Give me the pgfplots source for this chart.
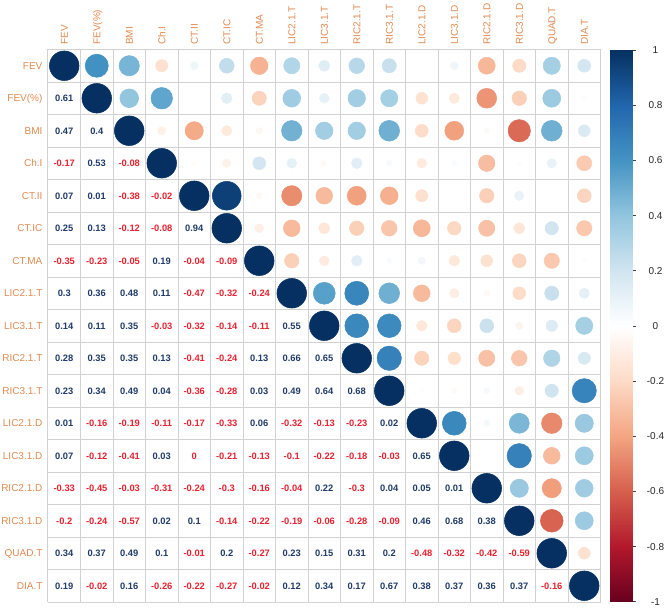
\documentclass[border=0pt]{standalone}
\usepackage{pgfplots}
\pgfplotsset{compat=1.18}
\usepackage{pgfplotstable}
\usepackage{fontspec}
\setmainfont{Liberation Sans}
\definecolor{labc}{RGB}{224,137,80}
\definecolor{posc}{RGB}{31,58,104}
\definecolor{negc}{RGB}{232,33,47}
\definecolor{gridc}{RGB}{210,210,210}

% positive lower-triangle correlations: row r, column c, value v
\pgfplotstableread{
r c v
2 1 0.61
3 1 0.47
3 2 0.4
4 2 0.53
5 1 0.07
5 2 0.01
6 1 0.25
6 2 0.13
6 5 0.94
7 4 0.19
8 1 0.3
8 2 0.36
8 3 0.48
8 4 0.11
9 1 0.14
9 2 0.11
9 3 0.35
9 8 0.55
10 1 0.28
10 2 0.35
10 3 0.35
10 4 0.13
10 7 0.13
10 8 0.66
10 9 0.65
11 1 0.23
11 2 0.34
11 3 0.49
11 4 0.04
11 7 0.03
11 8 0.49
11 9 0.64
11 10 0.68
12 1 0.01
12 7 0.06
12 11 0.02
13 1 0.07
13 4 0.03
13 12 0.65
14 9 0.22
14 11 0.04
14 12 0.05
14 13 0.01
15 4 0.02
15 5 0.1
15 12 0.46
15 13 0.68
15 14 0.38
16 1 0.34
16 2 0.37
16 3 0.49
16 4 0.1
16 6 0.2
16 8 0.23
16 9 0.15
16 10 0.31
16 11 0.2
17 1 0.19
17 3 0.16
17 8 0.12
17 9 0.34
17 10 0.17
17 11 0.67
17 12 0.38
17 13 0.37
17 14 0.36
17 15 0.37
}\Ptab

% negative (and zero) lower-triangle correlations
\pgfplotstableread{
r c v
4 1 -0.17
4 3 -0.08
5 3 -0.38
5 4 -0.02
6 3 -0.12
6 4 -0.08
7 1 -0.35
7 2 -0.23
7 3 -0.05
7 5 -0.04
7 6 -0.09
8 5 -0.47
8 6 -0.32
8 7 -0.24
9 4 -0.03
9 5 -0.32
9 6 -0.14
9 7 -0.11
10 5 -0.41
10 6 -0.24
11 5 -0.36
11 6 -0.28
12 2 -0.16
12 3 -0.19
12 4 -0.11
12 5 -0.17
12 6 -0.33
12 8 -0.32
12 9 -0.13
12 10 -0.23
13 2 -0.12
13 3 -0.41
13 5 0
13 6 -0.21
13 7 -0.13
13 8 -0.1
13 9 -0.22
13 10 -0.18
13 11 -0.03
14 1 -0.33
14 2 -0.45
14 3 -0.03
14 4 -0.31
14 5 -0.24
14 6 -0.3
14 7 -0.16
14 8 -0.04
14 10 -0.3
15 1 -0.2
15 2 -0.24
15 3 -0.57
15 6 -0.14
15 7 -0.22
15 8 -0.19
15 9 -0.06
15 10 -0.28
15 11 -0.09
16 5 -0.01
16 7 -0.27
16 12 -0.48
16 13 -0.32
16 14 -0.42
16 15 -0.59
17 2 -0.02
17 4 -0.26
17 5 -0.22
17 6 -0.27
17 7 -0.02
17 16 -0.16
}\Ntab

% diagonal
\pgfplotstableread{
d v
1 1
2 1
3 1
4 1
5 1
6 1
7 1
8 1
9 1
10 1
11 1
12 1
13 1
14 1
15 1
16 1
17 1
}\Dtab

\pgfplotsset{
  corrmap/.style={colormap={corr}{rgb255=(103,0,31) rgb255=(178,24,43) rgb255=(214,96,77) rgb255=(244,165,130) rgb255=(253,219,199) rgb255=(255,255,255) rgb255=(209,229,240) rgb255=(146,197,222) rgb255=(67,147,195) rgb255=(33,102,172) rgb255=(5,48,97)}},
  circ/.style={scatter, only marks, mark=*, point meta=explicit,
    scatter/use mapped color={draw=mapped color, fill=mapped color},
    visualization depends on={11.1*sqrt(abs(\thisrow{v})) \as \rad},
    scatter/@pre marker code/.append style={/tikz/mark size=\rad pt}},
  num/.style={draw=none, mark=none, nodes near coords, point meta=explicit symbolic,
    every node near coord/.append style={font=\bfseries\fontsize{7}{8}\selectfont,
      text=#1, anchor=center, inner sep=0pt, text height=5pt, text depth=0pt}},
}

\begin{document}
\begin{tikzpicture}
\useasboundingbox (-36pt,-4.5pt) rectangle (463.5pt,451.5pt);
\begin{axis}[
  x=24.375pt, y=24.375pt,
  xmin=0.5, xmax=17.5, ymin=0.5, ymax=17.5,
  clip=false,
  axis line style={draw=none},
  xtick={1,...,17}, ytick={1,...,17},
  xticklabels={FEV,FEV(\%),BMI,Ch.I,CT.II,CT.IC,CT.MA,LIC2.1.T,LIC3.1.T,RIC2.1.T,RIC3.1.T,LIC2.1.D,LIC3.1.D,RIC2.1.D,RIC3.1.D,QUAD.T,DIA.T},
  yticklabels={DIA.T,QUAD.T,RIC3.1.D,RIC2.1.D,LIC3.1.D,LIC2.1.D,RIC3.1.T,RIC2.1.T,LIC3.1.T,LIC2.1.T,CT.MA,CT.IC,CT.II,Ch.I,BMI,FEV(\%),FEV},
  xticklabel pos=upper,
  major tick length=0pt, minor tick length=0pt,
  minor xtick={0.5,1.5,...,17.5}, minor ytick={0.5,1.5,...,17.5},
  xminorgrids, yminorgrids,
  minor grid style={gridc, line width=0.75pt},
  xticklabel style={font=\fontsize{7.5}{9}\selectfont, text=labc, rotate=90, anchor=west,
    inner xsep=3.4pt, inner ysep=0pt, text height=5.4pt, text depth=0pt},
  yticklabel style={font=\fontsize{7.5}{9}\selectfont, text=labc, anchor=east,
    inner xsep=4pt, inner ysep=0pt, text height=5.4pt, text depth=0pt},
  corrmap,
  point meta min=-1, point meta max=1,
]
\addplot[circ] table[x=r, y expr=18-\thisrow{c}, meta=v] {\Ptab};
\addplot[circ] table[x=r, y expr=18-\thisrow{c}, meta=v] {\Ntab};
\addplot[circ] table[x=d, y expr=18-\thisrow{d}, meta=v] {\Dtab};
\addplot[num=posc] table[x=c, y expr=18-\thisrow{r}, meta=v] {\Ptab};
\addplot[num=negc] table[x=c, y expr=18-\thisrow{r}, meta=v] {\Ntab};
\end{axis}
% colour legend
\begin{axis}[
  at={(421.5pt,0.2pt)}, anchor=south west,
  scale only axis, width=17pt, height=413.8pt,
  xmin=0, xmax=1, ymin=-1, ymax=1,
  axis x line=none, axis y line*=right,
  axis line style={gray!50!black, line width=0.5pt},
  ytick={-1,-0.8,-0.6,-0.4,-0.2,0,0.2,0.4,0.6,0.8,1},
  yticklabels={-1,-0.8,-0.6,-0.4,-0.2,0,0.2,0.4,0.6,0.8,1},
  yticklabel style={font=\fontsize{7.5}{9}\selectfont, text=black!85, anchor=west,
    inner sep=0pt, text width=22.5pt, align=center, text height=5.4pt, text depth=0pt, xshift=3.4pt},
  major tick length=2.25pt, tick align=outside,
  ytick style={gray!50!black, line width=0.5pt},
  corrmap, point meta min=-1, point meta max=1,
]
\addplot[surf, shader=interp, mesh/cols=2, point meta=y] coordinates {
(0,-1) (1,-1)
(0,-0.8) (1,-0.8)
(0,-0.6) (1,-0.6)
(0,-0.4) (1,-0.4)
(0,-0.2) (1,-0.2)
(0,0) (1,0)
(0,0.2) (1,0.2)
(0,0.4) (1,0.4)
(0,0.6) (1,0.6)
(0,0.8) (1,0.8)
(0,1) (1,1)
};
\end{axis}
\end{tikzpicture}
\end{document}
